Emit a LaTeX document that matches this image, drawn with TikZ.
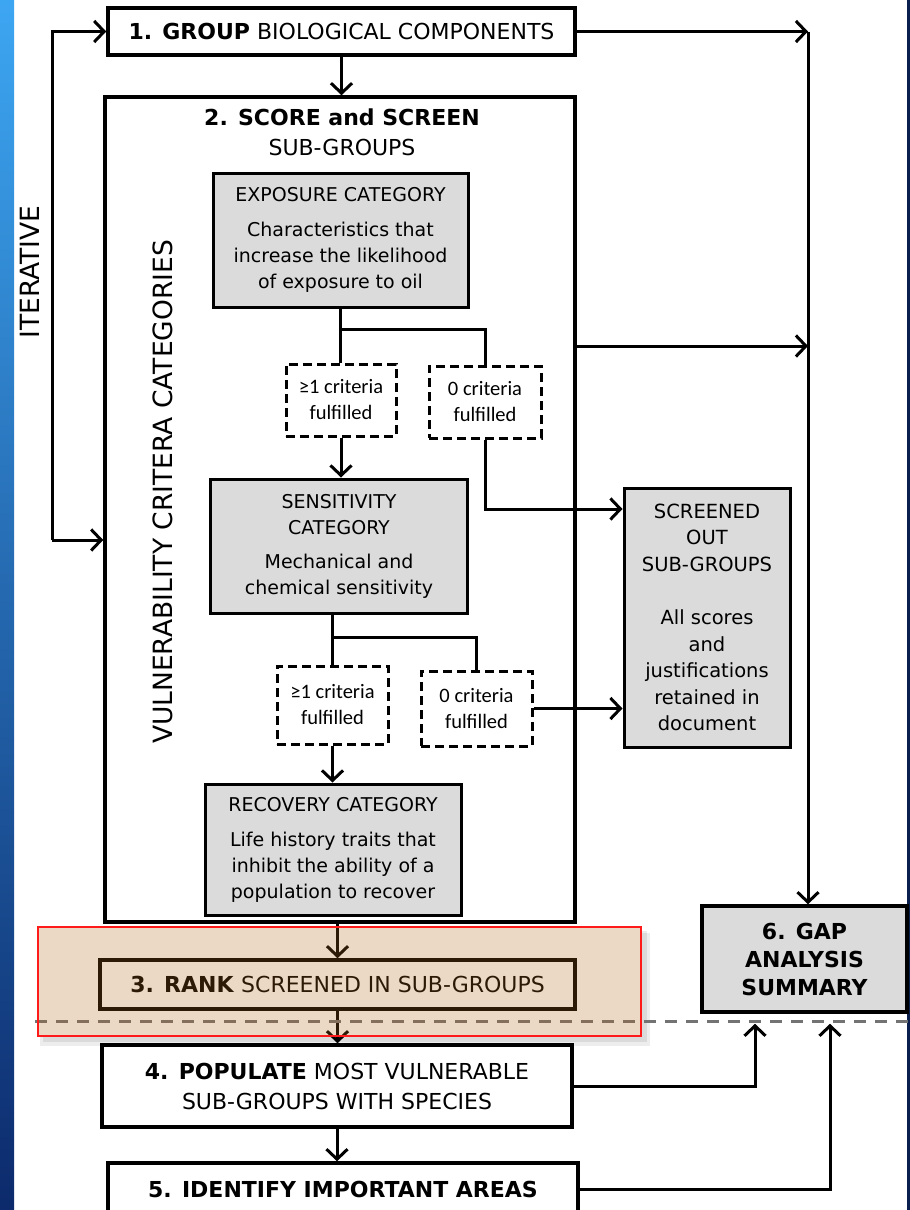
\documentclass[tikz,border=0pt]{standalone}
\usepackage{fontspec}
\setmainfont{DejaVu Sans}
\newfontfamily\carlito{Carlito}
\usetikzlibrary{arrows.meta,calc}

\definecolor{skytop}{HTML}{3DA6F2}
\definecolor{skymid}{HTML}{2366C0}
\definecolor{skybot}{HTML}{0C2A6C}
\definecolor{navy}{HTML}{0B1F4F}
\definecolor{rankred}{HTML}{FF1A1A}
\definecolor{ranktan}{RGB}{179,103,27}

\tikzset{
  box/.style={draw, line width=3.5pt, fill=white, align=center, inner sep=0pt,
    font=\fontsize{22}{30}\selectfont},
  catbox/.style={draw, line width=3pt, fill=black!14, align=center, inner sep=0pt,
    font=\fontsize{19}{26}\selectfont},
  critbox/.style={draw, line width=3pt, dash pattern=on 9pt off 5pt, fill=white,
    align=center, inner sep=0pt, font=\carlito\fontsize{20.5}{26}\selectfont},
  flow/.style={line width=3pt, -{Straight Barb[length=10pt,width=21pt]}},
  link/.style={line width=3pt},
  sidelabel/.style={rotate=90, inner sep=0pt, font=\fontsize{26.5}{30}\selectfont},
}

\begin{document}
\begin{tikzpicture}[x=1pt, y=-1pt]
\useasboundingbox (0,0) rectangle (910,1210);
% slide edges
\shade[top color=skytop, middle color=skymid, bottom color=skybot] (0,0) rectangle (14,1210);
\fill[navy] (907,0) rectangle (910,1210);

% shadow under the highlight
\fill[black, opacity=0.07] (40,933) rectangle (650,1046);
\fill[black, opacity=0.08] (43,931) rectangle (647,1042);
\fill[white] (38,927) rectangle (641,1036);

% main steps
\node[box, minimum width=467, minimum height=47] (group) at (341.5,31.5) {\textbf{1. GROUP} BIOLOGICAL COMPONENTS};
\node[box, minimum width=470, minimum height=825] (score) at (340,509.5) {};
\node[anchor=base, font=\fontsize{22}{30}\selectfont\bfseries] (scoretitle) at (342,125) {2. SCORE and SCREEN};
\node[anchor=base, font=\fontsize{22}{30}\selectfont] (scoresub) at (342,155) {SUB-GROUPS};
\node[sidelabel] (vuln) at (163,492) {VULNERABILITY CRITERA CATEGORIES};
\node[sidelabel] (iter) at (30,272) {ITERATIVE};

% categories
\node[catbox, minimum width=255, minimum height=134] (expo) at (340.5,240)
  {EXPOSURE CATEGORY\\[9pt]Characteristics that\\increase the likelihood\\of exposure to oil};
\node[critbox, minimum width=110, minimum height=72] (crita) at (341,400) {≥1 criteria\\fulfilled};
\node[critbox, minimum width=112, minimum height=72] (critb) at (485,402) {0 criteria\\fulfilled};
\node[catbox, minimum width=257, minimum height=134] (sens) at (339,546)
  {SENSITIVITY\\CATEGORY\\[8pt]Mechanical and\\chemical sensitivity};
\node[critbox, minimum width=111, minimum height=78] (critc) at (332.5,705) {≥1 criteria\\fulfilled};
\node[critbox, minimum width=111, minimum height=75] (critd) at (476.5,708.5) {0 criteria\\fulfilled};
\node[catbox, minimum width=256, minimum height=131] (recov) at (333,849.5)
  {RECOVERY CATEGORY\\[9pt]Life history traits that\\inhibit the ability of a\\population to recover};
\node[catbox, minimum width=166, minimum height=259, font=\fontsize{19.5}{26.5}\selectfont] (screened) at (707,617.5)
  {SCREENED\\OUT\\SUB-GROUPS\\[27pt]All scores\\and\\justifications\\retained in\\document};

% lower steps
\node[box, minimum width=475, minimum height=49] (rank) at (337.5,984.5) {\textbf{3. RANK} SCREENED IN SUB-GROUPS};
\node[box, minimum width=470, minimum height=82] (populate) at (337,1086) {\textbf{4. POPULATE} MOST VULNERABLE\\SUB-GROUPS WITH SPECIES};
\node[box, minimum width=470, minimum height=52] (identify) at (343,1189) {\textbf{5. IDENTIFY IMPORTANT AREAS}};
\node[catbox, line width=3.5pt, minimum width=205, minimum height=106, font=\fontsize{22}{28}\selectfont\bfseries] (gap) at (804.5,959)
  {6. GAP\\ANALYSIS\\SUMMARY};

% connectors
\coordinate (loop) at (52,540);
\coordinate (col) at (808,31.5);
\path (score.east) ++(0,-163.5) coordinate (scoreout);
\draw[flow] (group.south) -- (group.south |- score.north);
\draw[flow] (loop) |- (group.west);
\draw[flow] (loop) -- (loop -| score.west);
\draw[flow] (group.east) -- (col);
\draw[flow] (col) -- (col |- gap.north);
\draw[flow] (scoreout) -- (scoreout -| col);

\coordinate (expoj) at ($(expo.south)+(0,21)$);
\draw[link] (expo.south) -- (expoj) -| (critb.north);
\draw[link] (expoj) -- (expoj |- crita.north);
\draw[flow] (crita.south) -- (crita.south |- sens.north);
\draw[flow] (critb.south) |- ($(screened.west)+(0,-108.5)$);

\coordinate (sensj) at ($(critc.north |- sens.south)+(0,23)$);
\draw[link] (critc.north |- sens.south) -- (sensj) -| (critd.north);
\draw[link] (sensj) -- (critc.north);
\draw[flow] (critc.south) -- (critc.south |- recov.north);
\draw[flow] (critd.east) -- (critd.east -| screened.west);

\draw[flow] (rank.north |- score.south) -- (rank.north);
\draw[flow] (rank.south) -- (rank.south |- populate.north);
\draw[flow] (populate.south) -- (populate.south |- identify.north);
\draw[flow] (populate.east) -| ($(gap.south)+(-49.5,10)$);
\draw[flow] (identify.east) -| ($(gap.south)+(25.5,10)$);

% cut-off line
\draw[black!55, line width=3pt, dash pattern=on 12pt off 9pt] (35,1021) -- (910,1021);

% highlight of step 3
\node[draw=rankred, line width=2pt, fill=ranktan, fill opacity=0.25, minimum width=603, minimum height=109] (rankhl) at (339.5,981.5) {};
\end{tikzpicture}
\end{document}
